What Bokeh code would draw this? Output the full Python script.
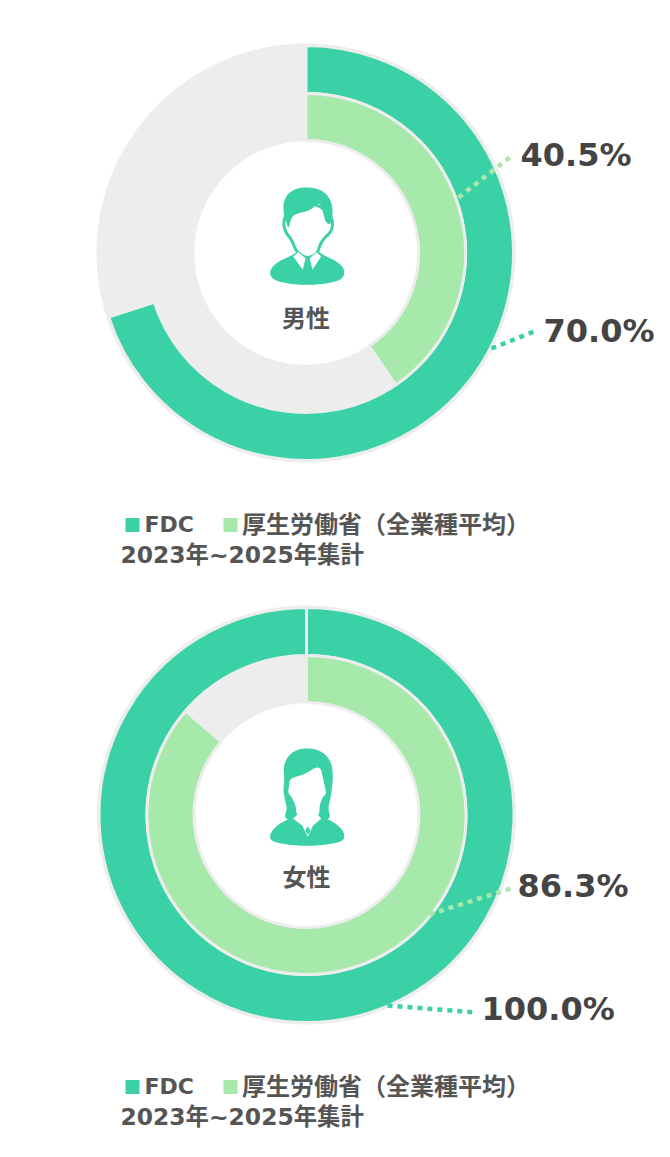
import math
from bokeh.plotting import figure
from bokeh.models import Range1d
from bokeh.core.properties import value
from bokeh.embed import file_html
from bokeh.resources import INLINE

# ---- data ----
groups = ["男性", "女性"]
fdc_pct = [70.0, 100.0]
mhlw_pct = [40.5, 86.3]
fdc_labels = ["70.0%", "100.0%"]
mhlw_labels = ["40.5%", "86.3%"]
legend_names = ["FDC", "厚生労働省（全業種平均）"]
period = "2023年~2025年集計"

# ---- style / layout ----
DARK, LIGHT, GREY = "#3ad1a6", "#a6e9ab", "#ededed"
W, H = 665, 1150
centres = [(305.5, 252.5), (306, 814.5)]
R_OUT, R_MID, R_IN = 207.5, 159.5, 112.5
CJK = "DejaVu Sans, Noto Sans CJK JP"

def Y(py):
    return H - py

p = figure(width=W, height=H, output_backend="svg", toolbar_location=None,
           x_range=Range1d(0, W), y_range=Range1d(0, H),
           min_border=0, outline_line_color=None)
p.axis.visible = False
p.grid.visible = False
p.background_fill_color = "white"
p.border_fill_color = "white"

def smooth(pts, n=2):
    for _ in range(n):
        out = []
        for i in range(len(pts)):
            a, b = pts[i], pts[(i + 1) % len(pts)]
            out.append((.75 * a[0] + .25 * b[0], .75 * a[1] + .25 * b[1]))
            out.append((.25 * a[0] + .75 * b[0], .25 * a[1] + .75 * b[1]))
        pts = out
    return pts

def icon(pts, ox, oy, fill, line=None, lw=0, sm=True):
    q = smooth(pts) if sm else pts
    xs = [ox + a / 3 for a, _ in q]
    ys = [Y(oy + b / 3) for _, b in q]
    p.patch(xs, ys, fill_color=fill, line_color=line, line_width=lw)

def ang(pct):
    return math.pi / 2 - 2 * math.pi * min(pct, 99.999) / 100

for i, (cx, cy) in enumerate(centres):
    y0 = Y(cy)
    p.circle([cx], [y0], radius=209.5, fill_color=GREY, line_color=None)
    p.circle([cx], [y0], radius=R_IN, fill_color="white", line_color=GREY, line_width=1.5)
    p.annular_wedge([cx], [y0], inner_radius=R_MID, outer_radius=R_OUT,
                    start_angle=math.pi / 2, end_angle=ang(fdc_pct[i]), direction="clock",
                    fill_color=DARK, line_color=GREY, line_width=3)
    p.annular_wedge([cx], [y0], inner_radius=R_IN, outer_radius=R_MID,
                    start_angle=math.pi / 2, end_angle=ang(mhlw_pct[i]), direction="clock",
                    fill_color=LIGHT, line_color=GREY, line_width=3)

# leader lines
leaders = [
    ((458, 197), (513, 154), LIGHT),
    ((491, 348), (536, 330), DARK),
    ((429, 914), (510, 888), LIGHT),
    ((387, 1005), (476, 1012), DARK),
]
for a, b, c in leaders:
    p.line([a[0], b[0]], [Y(a[1]), Y(b[1])], line_color=c, line_width=4.5, line_dash="5 5")

# value labels
label_kw = dict(text_font=value("DejaVu Sans"), text_font_style="bold", text_font_size="32px",
                text_color="#444444", text_align="left", text_baseline="middle")
p.text([520], [Y(154)], text=[mhlw_labels[0]], **label_kw)
p.text([543], [Y(330)], text=[fdc_labels[0]], **label_kw)
p.text([517], [Y(885)], text=[mhlw_labels[1]], **label_kw)
p.text([481], [Y(1008)], text=[fdc_labels[1]], **label_kw)

# group names
p.text([305.5], [Y(316)], text=[groups[0]], text_font=value("Noto Sans CJK JP"), text_font_style="bold",
       text_font_size="24px", text_color="#555555", text_align="center", text_baseline="middle")
p.text([306], [Y(874.5)], text=[groups[1]], text_font=value("Noto Sans CJK JP"), text_font_style="bold",
       text_font_size="24px", text_color="#555555", text_align="center", text_baseline="middle")

# legends
for dy in (0, 562):
    p.scatter([132], [Y(524.5 + dy)], marker="square", size=14, fill_color=DARK, line_color=None)
    p.scatter([230], [Y(524.5 + dy)], marker="square", size=14, fill_color=LIGHT, line_color=None)
    p.text([144], [Y(524 + dy)], text=[legend_names[0]], text_font=value("DejaVu Sans"), text_font_style="bold",
           text_font_size="22px", text_color="#555555", text_baseline="middle")
    p.text([241.5], [Y(522 + dy)], text=[legend_names[1]], text_font=value("Noto Sans CJK JP"), text_font_style="bold",
           text_font_size="24px", text_color="#555555", text_baseline="middle")
    p.text([120], [Y(554 + dy)], text=[period], text_font=value(CJK), text_font_style="bold",
           text_font_size="23.4px", text_color="#555555", text_baseline="middle")

# male icon
ox, oy = 250, 170
icon([(57, 312), (62, 292), (85, 272), (130, 252), (150, 235), (195, 235), (215, 252), (258, 272),
      (280, 292), (282, 314), (268, 330), (225, 340), (170, 344), (115, 340), (72, 330)], ox, oy, DARK)
icon([(98, 150), (104, 184), (124, 208), (135, 238), (146, 250), (170, 264), (200, 250), (208, 225),
      (219, 205), (242, 184), (248, 155), (232, 120), (170, 90), (115, 120)], ox, oy, "white", DARK, 3)
icon([(128, 258), (143, 245), (165, 263), (157, 298)], ox, oy, "white", sm=False)
icon([(212, 258), (198, 245), (178, 263), (186, 298)], ox, oy, "white", sm=False)
icon([(100, 140), (98, 92), (120, 60), (165, 48), (214, 58), (240, 85), (248, 125), (242, 162),
      (226, 158), (218, 128), (208, 92), (180, 120), (135, 130), (122, 142), (114, 178), (106, 150)], ox, oy, DARK)

# female icon
ox, oy = 250, 735
icon([(102, 135), (98, 90), (120, 50), (165, 36), (215, 46), (242, 78), (248, 120), (244, 160),
      (240, 190), (232, 220), (242, 250), (200, 260), (140, 260), (100, 250), (110, 220), (103, 190),
      (98, 165)], ox, oy, DARK)
icon([(57, 310), (62, 288), (85, 265), (120, 248), (150, 235), (195, 235), (225, 248), (258, 265),
      (280, 288), (282, 310), (268, 320), (225, 328), (170, 332), (115, 328), (72, 320)], ox, oy, DARK)
icon([(116, 150), (118, 128), (160, 118), (208, 88), (218, 130), (222, 150), (228, 175),
      (216, 184), (207, 210), (207, 240), (170, 258), (138, 240), (136, 210),
      (122, 182), (112, 172)], ox, oy, "white")
icon([(128, 250), (143, 235), (172, 252), (200, 235), (212, 250), (188, 270), (172, 304), (155, 270)],
     ox, oy, "white", sm=False)
icon([(172, 272), (180, 285), (172, 298), (164, 285)], ox, oy, DARK, sm=False)

open("out.html", "w").write(file_html(p, INLINE))
